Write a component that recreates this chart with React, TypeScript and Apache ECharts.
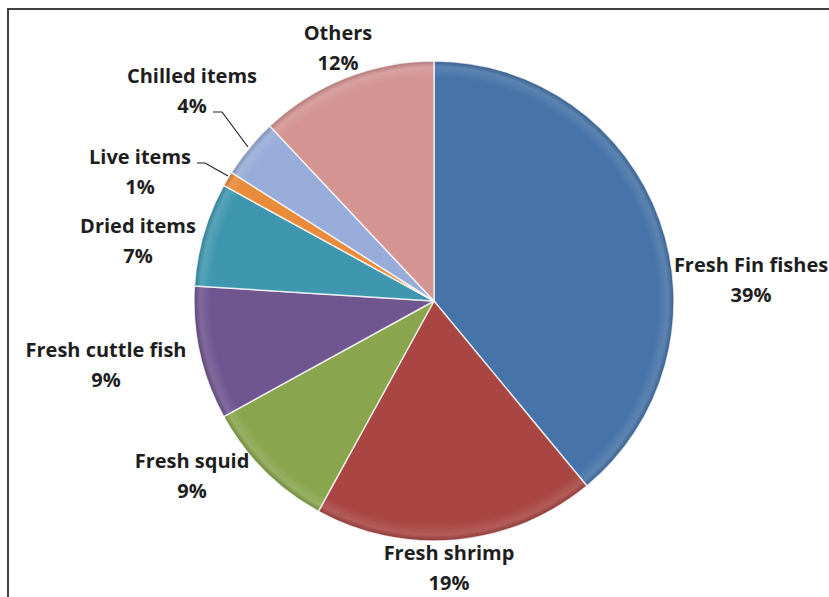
import React, { useEffect, useRef } from "react";
import * as echarts from "echarts";

const categories = [
  "Fresh Fin fishes",
  "Fresh shrimp",
  "Fresh squid",
  "Fresh cuttle fish",
  "Dried items",
  "Live items",
  "Chilled items",
  "Others",
];
const shares = [39, 19, 9, 9, 7, 1, 4, 12];
const sliceColors = [
  "#4673A8",
  "#A94643",
  "#89A54E",
  "#6F5690",
  "#3F97AF",
  "#E88B3A",
  "#97ACD8",
  "#D39492",
];

// label block centres (layout, not data)
const labelCentres: [number, number][] = [
  [751, 279],
  [449, 567],
  [192, 475],
  [106, 364],
  [138, 240],
  [140, 171],
  [192, 90],
  [338, 47],
];
const leaderLines: Record<number, [number, number][]> = {
  5: [
    [197, 163],
    [205, 163],
    [228, 176],
  ],
  6: [
    [213, 112],
    [222, 112],
    [248, 147],
  ],
};

const CX = 434;
const CY = 301;
const R = 240;

function shade(hex: string, f: number): string {
  const n = parseInt(hex.slice(1), 16);
  let r = (n >> 16) & 255,
    g = (n >> 8) & 255,
    b = n & 255;
  if (f < 0) {
    r = Math.round(r * (1 + f));
    g = Math.round(g * (1 + f));
    b = Math.round(b * (1 + f));
  } else {
    r = Math.round(r + (255 - r) * f);
    g = Math.round(g + (255 - g) * f);
    b = Math.round(b + (255 - b) * f);
  }
  return `rgb(${r},${g},${b})`;
}

export default function App() {
  const ref = useRef<HTMLDivElement>(null);
  useEffect(() => {
    if (!ref.current) return;
    const chart = echarts.init(ref.current, undefined, { renderer: "svg" });
    const data = categories.map((name, i) => ({
      name,
      value: shares[i],
      itemStyle: {
        color: new echarts.graphic.RadialGradient(
          CX,
          CY,
          R,
          [
            { offset: 0, color: sliceColors[i] },
            { offset: 0.93, color: sliceColors[i] },
            { offset: 0.975, color: shade(sliceColors[i], 0.12) },
            { offset: 1, color: shade(sliceColors[i], -0.18) },
          ],
          true
        ),
      },
      labelLine: { show: leaderLines[i] !== undefined },
    }));
    chart.setOption({
      animation: false,
      backgroundColor: "#ffffff",
      graphic: [
        {
          type: "rect",
          shape: { x: 8, y: 9, width: 900, height: 700 },
          style: { fill: "none", stroke: "#404040", lineWidth: 2 },
          silent: true,
        },
      ],
      series: [
        {
          type: "pie",
          center: [CX, CY],
          radius: [0, R],
          startAngle: 90,
          clockwise: true,
          data,
          itemStyle: {
            borderColor: "rgba(255,255,255,0.75)",
            borderWidth: 1.5,
          },
          label: {
            show: true,
            position: "outside",
            formatter: (p: any) => `${p.name}\n${Math.round(p.percent)}%`,
            fontFamily: "Open Sans",
            fontWeight: "bold",
            fontSize: 20,
            lineHeight: 30,
            color: "#1e1e1e",
            align: "center",
            overflow: "none",
            width: 300,
          },
          labelLine: {
            lineStyle: { color: "#222222", width: 1.2 },
          },
          labelLayout: (params: any) => {
            const c = labelCentres[params.dataIndex];
            const res: any = {
              x: c[0],
              y: c[1],
              align: "center",
              verticalAlign: "middle",
            };
            const pts = leaderLines[params.dataIndex];
            if (pts) res.labelLinePoints = pts;
            return res;
          },
        },
      ],
    });
    return () => chart.dispose();
  }, []);
  return (
    <div
      ref={ref}
      style={{ position: "fixed", left: 0, top: 0, width: 829, height: 597 }}
    />
  );
}
